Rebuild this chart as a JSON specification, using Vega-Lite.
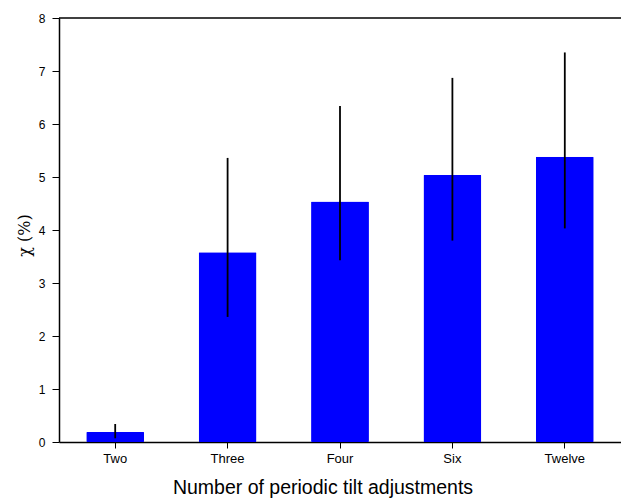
{
  "$schema": "https://vega.github.io/schema/vega-lite/v6.json",
  "width": 562,
  "height": 424,
  "autosize": {"type": "none"},
  "padding": {"left": 59, "top": 18, "right": 0, "bottom": 57},
  "background": "white",
  "config": {
    "view": {"stroke": null},
    "axis": {
      "labelFont": "Liberation Sans",
      "titleFont": "Liberation Sans",
      "labelColor": "#000",
      "titleColor": "#000",
      "domainColor": "#000",
      "tickColor": "#000",
      "grid": false
    }
  },
  "data": {
    "values": [
      {"n": "Two", "v": 0.19, "lo": 0.07, "hi": 0.34},
      {"n": "Three", "v": 3.58, "lo": 2.36, "hi": 5.36},
      {"n": "Four", "v": 4.54, "lo": 3.43, "hi": 6.34},
      {"n": "Six", "v": 5.04, "lo": 3.80, "hi": 6.87},
      {"n": "Twelve", "v": 5.38, "lo": 4.03, "hi": 7.35}
    ]
  },
  "encoding": {
    "x": {
      "field": "n",
      "type": "nominal",
      "sort": null,
      "scale": {"paddingInner": 0.485, "paddingOuter": 0.2425},
      "axis": {
        "title": "Number of periodic tilt adjustments",
        "titleFontSize": 19.5,
        "titleFontWeight": "normal",
        "titlePadding": 13,
        "titleX": 263.5,
        "labelAngle": 0,
        "labelFontSize": 13,
        "labelPadding": 4,
        "tickSize": 6,
        "domainWidth": 1.5,
        "tickWidth": 1
      }
    }
  },
  "layer": [
    {
      "mark": {"type": "bar", "color": "#0000ff", "cornerRadius": 1},
      "encoding": {
        "y": {
          "field": "v",
          "type": "quantitative",
          "scale": {"domain": [0, 8], "nice": false},
          "axis": {
            "title": "χ  (%)",
            "titleFont": "DejaVu Serif",
            "titleFontSize": 16,
            "titleFontWeight": "normal",
            "titlePadding": 6,
            "titleY": 217,
            "values": [0, 1, 2, 3, 4, 5, 6, 7, 8],
            "labelFontSize": 12,
            "labelPadding": 7,
            "tickSize": 7,
            "domainWidth": 1.5,
            "tickWidth": 1
          }
        }
      }
    },
    {
      "mark": {"type": "rule", "color": "#000", "strokeWidth": 1.8},
      "encoding": {
        "y": {"field": "lo", "type": "quantitative"},
        "y2": {"field": "hi"}
      }
    },
    {
      "data": {"values": [{"top": 8}]},
      "mark": {"type": "rule", "color": "#000", "strokeWidth": 1.5},
      "encoding": {
        "y": {"field": "top", "type": "quantitative"},
        "x": null
      }
    }
  ]
}
